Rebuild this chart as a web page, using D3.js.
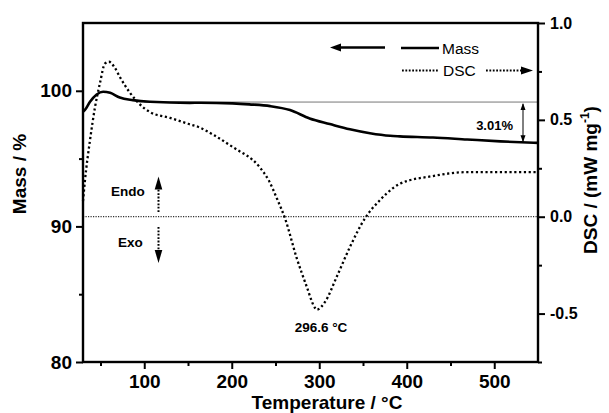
<!DOCTYPE html>
<html>
<head>
  <script src="https://d3js.org/d3.v7.min.js"></script>
  <style>
    body { margin: 0; background: #fff; }
    svg { font-family: Arial, "Liberation Sans", sans-serif; }
  </style>
</head>
<body>
<script>
// temperature (°C) and mass (%)
var massT = [30, 32, 38, 45.6, 53, 61, 72, 87, 106.6, 152, 164, 201, 220, 244, 266.6, 289, 312, 335, 358, 381, 392, 430, 469, 507, 550];
var massV = [98.45, 98.57, 99.19, 99.73, 99.93, 99.85, 99.5, 99.31, 99.19, 99.11, 99.12, 99.07, 99.0, 98.87, 98.58, 97.96, 97.55, 97.16, 96.87, 96.68, 96.64, 96.56, 96.41, 96.27, 96.16];

// temperature (°C) and DSC (mW/mg)
var dscT = [30, 32.3, 38, 43.7, 49.4, 55, 59.7, 66.6, 72.3, 83.7, 95, 106.6, 129.4, 150, 163.7, 180, 201, 232, 242, 252, 261, 274, 285.6, 295, 297, 306.6, 320, 335, 352, 369, 377, 392, 430, 469, 549];
var dscV = [0.08, 0.19, 0.395, 0.565, 0.69, 0.79, 0.80, 0.767, 0.72, 0.64, 0.58, 0.54, 0.51, 0.48, 0.46, 0.42, 0.36, 0.255, 0.19, 0.09, -0.01, -0.21, -0.36, -0.47, -0.48, -0.44, -0.31, -0.157, -0.01, 0.084, 0.12, 0.17, 0.21, 0.23, 0.23];

var xTicks = [100, 200, 300, 400, 500];
var xMinor = [50, 150, 250, 350, 450];
var massTicks = [80, 90, 100];
var massMinor = [85, 95];
var dscTicks = [-0.5, 0.0, 0.5, 1.0];
var dscMinor = [-0.75, -0.25, 0.25, 0.75];

var massStart = 99.17, massEnd = 96.16;

var W = 609, H = 413;
var pL = 83, pR = 538, pT = 23, pB = 362;

var svg = d3.select("body").append("svg")
  .attr("width", W)
  .attr("height", H);

var x = d3.scaleLinear().domain([30, 550]).range([pL, pR]);
var yM = d3.scaleLinear().domain([80, 105]).range([pB, pT]);
var yD = d3.scaleLinear().domain([-0.75, 1.0]).range([pB, pT]);

// reference lines: mass plateau and DSC zero
svg.append("line")
  .attr("x1", x(100)).attr("x2", pR)
  .attr("y1", yM(massStart)).attr("y2", yM(massStart))
  .attr("stroke", "#777").attr("stroke-width", 1);

svg.append("line")
  .attr("x1", pL).attr("x2", pR)
  .attr("y1", yD(0)).attr("y2", yD(0))
  .attr("stroke", "#333").attr("stroke-width", 1.2)
  .attr("stroke-dasharray", "1.2,1.3");

// curves
var massLine = d3.line()
  .x(function(d, i) { return x(massT[i]); })
  .y(function(d) { return yM(d); })
  .curve(d3.curveMonotoneX);

var dscLine = d3.line()
  .x(function(d, i) { return x(dscT[i]); })
  .y(function(d) { return yD(d); })
  .curve(d3.curveMonotoneX);

svg.append("path")
  .attr("d", dscLine(dscV))
  .attr("fill", "none").attr("stroke", "#000")
  .attr("stroke-width", 2.3)
  .attr("stroke-dasharray", "2.2,2.6");

svg.append("path")
  .attr("d", massLine(massV))
  .attr("fill", "none").attr("stroke", "#000")
  .attr("stroke-width", 2.6);

// axes
var gx = svg.append("g").attr("transform", "translate(0," + pB + ")")
  .call(d3.axisBottom(x).tickValues(xTicks).tickSize(7).tickFormat(d3.format("d")));
svg.append("g").attr("transform", "translate(0," + pB + ")")
  .call(d3.axisBottom(x).tickValues(xMinor).tickSize(4).tickFormat(""));

var gl = svg.append("g").attr("transform", "translate(" + pL + ",0)")
  .call(d3.axisLeft(yM).tickValues(massTicks).tickSize(7).tickFormat(d3.format("d")));
svg.append("g").attr("transform", "translate(" + pL + ",0)")
  .call(d3.axisLeft(yM).tickValues(massMinor).tickSize(4).tickFormat(""));

var gr = svg.append("g").attr("transform", "translate(" + pR + ",0)")
  .call(d3.axisRight(yD).tickValues(dscTicks).tickSize(7).tickFormat(d3.format(".1f")));
svg.append("g").attr("transform", "translate(" + pR + ",0)")
  .call(d3.axisRight(yD).tickValues(dscMinor).tickSize(4).tickFormat(""));

svg.selectAll(".domain").remove();
svg.selectAll(".tick line").attr("stroke", "#000").attr("stroke-width", 2);
gx.selectAll("text").attr("font-size", 19).attr("font-weight", "bold").attr("fill", "#000")
  .attr("y", 26).attr("dy", 0);
gl.selectAll("text").attr("font-size", 19).attr("font-weight", "bold").attr("fill", "#000").attr("x", -11);
gr.selectAll("text").attr("font-size", 16).attr("font-weight", "bold").attr("fill", "#000").attr("x", 12)
  .text(function(d) { return d < 0 ? "-" + Math.abs(d).toFixed(1) : d.toFixed(1); });

// frame
svg.append("rect")
  .attr("x", pL).attr("y", pT)
  .attr("width", pR - pL).attr("height", pB - pT)
  .attr("fill", "none").attr("stroke", "#000").attr("stroke-width", 2.4);

// axis titles
svg.append("text")
  .attr("transform", "translate(26,174) rotate(-90)")
  .attr("text-anchor", "middle")
  .attr("font-size", 19).attr("font-weight", "bold")
  .text("Mass / %");

svg.append("text")
  .attr("x", 327).attr("y", 409)
  .attr("text-anchor", "middle")
  .attr("font-size", 19).attr("font-weight", "bold")
  .text("Temperature / \u00B0C");

var dl = svg.append("text")
  .attr("transform", "translate(597,180) rotate(-90)")
  .attr("text-anchor", "middle")
  .attr("font-size", 19).attr("font-weight", "bold");
dl.append("tspan").text("DSC / (mW mg");
dl.append("tspan").attr("font-size", 12).attr("dy", -8).text("-1");
dl.append("tspan").attr("dy", 8).text(")");

// arrowhead helper (tip at px,py, pointing in direction dir)
function head(px, py, dir, len, half) {
  var p;
  if (dir === "left") p = [[px, py], [px + len, py - half], [px + len, py + half]];
  if (dir === "right") p = [[px, py], [px - len, py - half], [px - len, py + half]];
  if (dir === "up") p = [[px, py], [px - half, py + len], [px + half, py + len]];
  if (dir === "down") p = [[px, py], [px - half, py - len], [px + half, py - len]];
  svg.append("polygon").attr("points", p.map(function(q) { return q.join(","); }).join(" ")).attr("fill", "#000");
}

// legend
svg.append("line").attr("x1", 338).attr("x2", 385).attr("y1", 47.5).attr("y2", 47.5)
  .attr("stroke", "#000").attr("stroke-width", 2.4);
head(330, 47.5, "left", 11, 4);
svg.append("line").attr("x1", 401).attr("x2", 439).attr("y1", 48).attr("y2", 48)
  .attr("stroke", "#000").attr("stroke-width", 2.4);
svg.append("text").attr("x", 442).attr("y", 54).attr("font-size", 15.5).text("Mass");

svg.append("line").attr("x1", 402).attr("x2", 439).attr("y1", 70.5).attr("y2", 70.5)
  .attr("stroke", "#000").attr("stroke-width", 2).attr("stroke-dasharray", "1.8,1.6");
svg.append("text").attr("x", 443).attr("y", 76).attr("font-size", 15.5).text("DSC");
svg.append("line").attr("x1", 486).attr("x2", 522).attr("y1", 70.5).attr("y2", 70.5)
  .attr("stroke", "#000").attr("stroke-width", 2).attr("stroke-dasharray", "1.8,1.6");
head(533, 70.5, "right", 12, 4);

// mass loss annotation
var ax = 523;
svg.append("line").attr("x1", ax).attr("x2", ax)
  .attr("y1", yM(massStart) + 2).attr("y2", yM(massEnd) - 1)
  .attr("stroke", "#000").attr("stroke-width", 1);
head(ax, yM(massStart) + 1, "up", 7, 2.5);
head(ax, yM(massEnd) - 0.5, "down", 7, 2.5);
svg.append("text").attr("x", 513).attr("y", 130)
  .attr("text-anchor", "end").attr("font-size", 13).attr("font-weight", "bold")
  .text((massStart - massEnd).toFixed(2) + "%");

// peak label
svg.append("text").attr("x", 321).attr("y", 332)
  .attr("text-anchor", "middle").attr("font-size", 13.5).attr("font-weight", "bold")
  .text("296.6 \u00B0C");

// Endo / Exo arrows
svg.append("text").attr("x", 111).attr("y", 196).attr("font-size", 13.5).attr("font-weight", "bold").text("Endo");
svg.append("line").attr("x1", 158.5).attr("x2", 158.5).attr("y1", 212).attr("y2", 188)
  .attr("stroke", "#000").attr("stroke-width", 2).attr("stroke-dasharray", "1.8,1.6");
head(158.5, 176.5, "up", 13, 3.8);

svg.append("text").attr("x", 118).attr("y", 247).attr("font-size", 13.5).attr("font-weight", "bold").text("Exo");
svg.append("line").attr("x1", 158.5).attr("x2", 158.5).attr("y1", 227).attr("y2", 252)
  .attr("stroke", "#000").attr("stroke-width", 2).attr("stroke-dasharray", "1.8,1.6");
head(158.5, 263, "down", 13, 3.8);
</script>
</body>
</html>
